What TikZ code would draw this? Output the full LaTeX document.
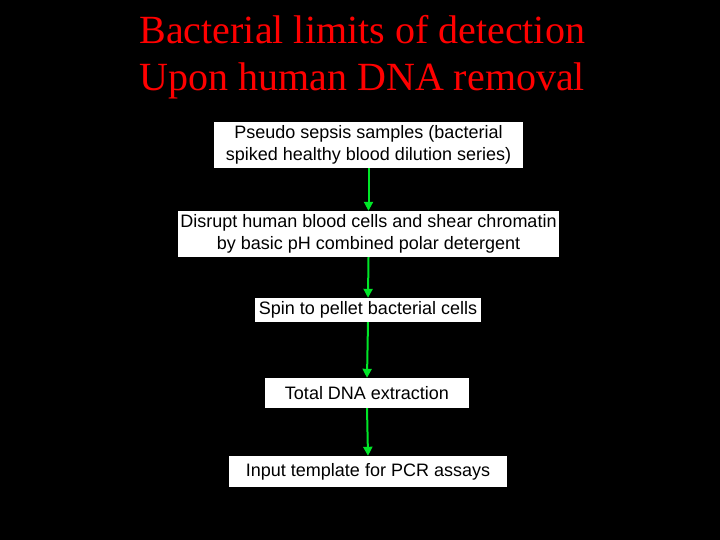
\documentclass[tikz,border=0pt]{standalone}
\usepackage{fontspec}
\setmainfont{Liberation Sans}
\newfontfamily\titlefont{Liberation Serif}
\usetikzlibrary{arrows.meta}
\begin{document}
\begin{tikzpicture}[x=1pt,y=-1pt,
  box/.style={fill=white,draw=none,inner sep=0pt,align=center,font=\fontsize{18}{22}\selectfont,text=black},
  arr/.style={draw={rgb,255:red,0;green,230;blue,40},line width=2pt,-{Triangle[length=9pt,width=9pt]}}]
\fill[black] (0,0) rectangle (720,540);
\useasboundingbox (0,0) rectangle (720,540);
\node[anchor=west,text=red,font=\titlefont\fontsize{40}{47}\selectfont,align=left] (t) at (136,57) {Bacterial limits of detection\\Upon human DNA removal};
\node[box,minimum width=309,minimum height=46] (b1) at (368.5,145) {Pseudo sepsis samples (bacterial\\spiked healthy blood dilution series)};
\node[box,minimum width=381,minimum height=46] (b2) at (368.5,234) {Disrupt human blood cells and shear chromatin\\by basic pH combined polar detergent};
\node[box,minimum width=226,minimum height=24] (b3) at (368,310) {Spin to pellet bacterial cells};
\node[box,minimum width=204,minimum height=30] (b4) at (367,393) {Total DNA extraction};
\node[box,minimum width=278,minimum height=31] (b5) at (368,471.5) {Input template for PCR assays};
\draw[arr] (b1.south) -- (b2.north);
\draw[arr] (b2.south) -- (b3.north);
\draw[arr] (b3.south) -- (b4.north);
\draw[arr] (b4.south) -- (b5.north);
\end{tikzpicture}
\end{document}
